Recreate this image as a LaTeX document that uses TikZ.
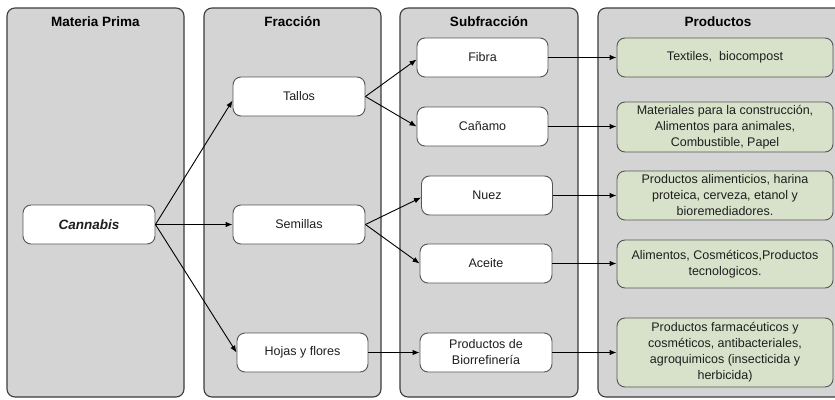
\documentclass[tikz,border=0pt]{standalone}
\usepackage{fontspec}
\setmainfont{Liberation Sans}
\usetikzlibrary{arrows.meta}
\definecolor{panelgray}{RGB}{212,212,212}
\definecolor{panelline}{RGB}{60,60,60}
\definecolor{boxline}{RGB}{85,85,85}
\definecolor{prodfill}{RGB}{216,226,202}
\definecolor{txt}{RGB}{30,30,30}
\tikzset{
  panel/.style={draw=panelline, fill=panelgray, line width=1.1pt, rounded corners=8pt},
  header/.style={font=\fontsize{13.5}{16}\selectfont\bfseries, text=black},
  subbox/.style={draw=boxline, fill=white, line width=0.9pt, rounded corners=8pt,
    minimum width=131pt, minimum height=39pt, align=center, inner sep=2pt,
    font=\fontsize{12.5}{16}\selectfont, text=txt},
  prodbox/.style={subbox, fill=prodfill, minimum width=216pt},
  arr/.style={-{Latex[length=7pt,width=5.5pt]}, line width=0.9pt, black}
}
\begin{document}
\begin{tikzpicture}[x=1pt,y=-1pt]
\clip (0,0) rectangle (835,399);
\fill[white] (0,0) rectangle (835,399);
% panels
\draw[panel] (7,8) rectangle (184,397);
\draw[panel] (204,8) rectangle (381,397);
\draw[panel] (400,8) rectangle (578,397);
\draw[panel] (598,8) rectangle (850,397);
\node[header] (h1) at (95.5,22) {Materia Prima};
\node[header] (h2) at (292.5,22) {Fracción};
\node[header] (h3) at (489,22) {Subfracción};
\node[header] (h4) at (718,22) {Productos};
% nodes
\node[subbox, minimum width=132pt] (can) at (89,224.5) {\fontsize{13.5}{16}\selectfont\bfseries\itshape Cannabis};
\node[subbox, minimum width=132pt] (tal) at (299,96.5) {Tallos};
\node[subbox, minimum width=132pt] (sem) at (299,224.5) {Semillas};
\node[subbox, minimum width=131pt] (hoj) at (302.5,352.5) {Hojas y flores};
\node[subbox] (fib) at (482.5,57.5) {Fibra};
\node[subbox] (can2) at (482.5,126.5) {Cañamo};
\node[subbox] (nue) at (487,195.5) {Nuez};
\node[subbox, minimum width=132pt] (ace) at (486,263.5) {Aceite};
\node[subbox, minimum width=132pt] (bio) at (486,352.5) {Productos de\\Biorrefinería};
\node[prodbox] (p1) at (725,57.5) {Textiles,\ \ biocompost};
\node[prodbox, minimum height=50pt] (p2) at (725,127) {Materiales para la construcción,\\Alimentos para animales,\\Combustible, Papel};
\node[prodbox, minimum height=49pt] (p3) at (725,195.5) {Productos alimenticios, harina\\proteica, cerveza, etanol y\\bioremediadores.};
\node[prodbox, minimum height=48pt] (p4) at (725,264) {Alimentos, Cosméticos,Productos\\tecnologicos.};
\node[prodbox, minimum height=69pt] (p5) at (725,352.5) {Productos farmacéuticos y\\cosméticos, antibacteriales,\\agroquimicos (insecticida y\\herbicida)};
% arrows
\draw[arr] (can.east) -- ([yshift=-4pt]tal.west);
\draw[arr] (can.east) -- (sem.west);
\draw[arr] (can.east) -- (hoj.west);
\draw[arr] (tal.east) -- ([yshift=-2pt]fib.west);
\draw[arr] (tal.east) -- (can2.west);
\draw[arr] (sem.east) -- ([yshift=-2pt]nue.west);
\draw[arr] (sem.east) -- (ace.west);
\draw[arr] (hoj.east) -- (bio.west);
\draw[arr] (fib.east) -- (p1.west);
\draw[arr] (can2.east) -- (p2.west |- can2.east);
\draw[arr] (nue.east) -- (p3.west);
\draw[arr] (ace.east) -- (p4.west |- ace.east);
\draw[arr] (bio.east) -- (p5.west);
\end{tikzpicture}
\end{document}
